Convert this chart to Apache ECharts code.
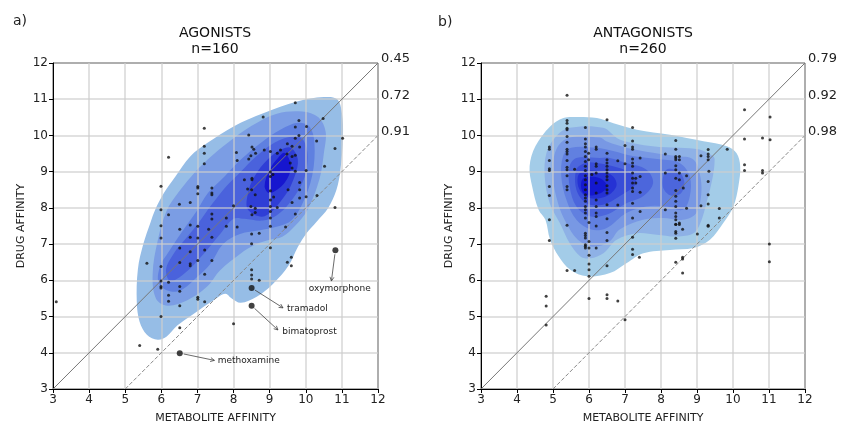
<!DOCTYPE html>
<html>
<head>
<meta charset="utf-8">
<script src="https://cdn.jsdelivr.net/npm/echarts/dist/echarts.min.js"></script>
<style>
  html, body { margin: 0; padding: 0; background: #fff; }
  #chart { width: 841px; height: 430px; }
</style>
</head>
<body>
<div id="chart"></div>
<script>
// 散点数据 (metabolite affinity, drug affinity)
var agoPoints = [
  [9.71,10.9],[8.82,10.51],[9.81,10.41],[10.48,10.47],[7.19,10.2],[9.71,10.23],[8.42,10.01],[10.02,10.25],
  [9.81,10.0],[11.02,9.92],[10.3,9.85],[9.71,9.92],[9.49,9.77],[9.83,9.68],[9.62,9.7],[7.19,9.7],[7.19,9.51],
  [6.2,9.4],[8.08,9.53],[8.51,9.68],[8.56,9.62],[8.61,9.51],[8.85,9.6],[9.02,9.56],[9.21,9.51],[9.3,9.6],
  [9.48,9.49],[9.62,9.42],[8.48,9.44],[8.42,9.35],[8.1,9.31],[7.19,9.22],[10.81,9.64],[9.71,9.45],[9.57,9.24],
  [9.62,9.1],[9.71,9.01],[10.01,9.03],[10.52,9.15],[9.02,8.99],[9.09,8.92],[9.02,8.87],[8.51,8.82],[8.51,8.78],
  [8.3,8.78],[5.99,8.6],[7.01,8.59],[7.01,8.55],[7.4,8.55],[8.39,8.52],[8.5,8.5],[9.02,8.47],[9.51,8.5],
  [9.83,8.7],[9.83,8.5],[7.4,8.41],[7.4,8.36],[8.6,8.36],[9.83,8.27],[10.01,8.31],[10.31,8.34],[9.11,8.3],
  [9.02,8.22],[7.01,8.39],[5.99,7.95],[6.5,8.1],[6.8,8.15],[8.0,8.06],[8.48,8.04],[8.6,7.99],[8.6,7.87],
  [9.02,8.04],[9.21,8.01],[9.62,8.15],[10.81,8.01],[6.2,7.81],[7.4,7.83],[7.4,7.69],[8.51,7.81],[9.02,7.9],
  [9.71,7.83],[5.99,7.51],[6.51,7.41],[6.8,7.53],[7.01,7.49],[7.31,7.41],[7.8,7.72],[7.8,7.49],[8.1,7.47],
  [9.02,7.72],[9.02,7.49],[9.44,7.47],[5.99,7.17],[6.8,7.19],[7.01,7.17],[7.4,7.19],[8.5,7.28],[8.5,7.01],
  [8.71,7.3],[9.02,6.9],[6.51,6.89],[6.8,6.79],[7.2,6.84],[7.01,6.55],[7.4,6.55],[6.8,6.46],[6.8,6.4],
  [6.51,6.49],[5.99,6.38],[5.6,6.47],[9.49,6.5],[9.6,6.64],[9.6,6.4],[8.5,6.29],[8.5,6.15],[8.5,6.04],
  [8.71,6.0],[7.2,6.17],[5.99,5.98],[6.2,5.95],[5.99,5.83],[5.99,5.79],[6.51,5.83],[6.51,5.7],[6.2,5.59],
  [6.2,5.42],[7.01,5.53],[7.01,5.48],[7.2,5.41],[6.51,5.3],[5.99,5.0],[3.09,5.41],[6.51,4.69],[8.0,4.8],
  [5.4,4.2],[5.9,4.1]
]

var antaPoints = [
  [5.39,11.11],[5.39,10.41],[5.39,10.34],[5.39,10.2],[5.39,10.16],[6.5,10.43],[5.9,10.22],[7.21,10.22],
  [10.32,10.71],[11.03,10.51],[10.32,9.9],[10.82,9.93],[11.03,9.88],[10.32,9.19],[10.32,9.03],[10.82,9.03],
  [10.82,8.96],[9.84,9.62],[4.9,9.68],[4.9,9.62],[5.39,9.97],[5.39,9.81],[5.39,9.62],[5.39,9.56],[5.39,9.49],
  [5.9,9.9],[5.9,9.77],[5.9,9.68],[5.9,9.56],[6.2,9.68],[6.2,9.62],[7.0,9.72],[7.21,9.85],[7.21,9.68],
  [7.21,9.62],[8.41,9.86],[8.41,9.62],[8.41,9.42],[8.41,9.38],[8.41,9.33],[8.51,9.42],[8.51,9.33],[8.12,9.49],
  [9.31,9.61],[9.31,9.49],[9.31,9.42],[9.31,9.33],[9.11,9.44],[4.9,9.31],[4.9,9.08],[4.9,9.03],[4.9,8.59],
  [4.9,8.34],[4.9,7.67],[5.39,9.31],[5.39,9.12],[5.39,9.05],[5.39,8.89],[5.39,8.59],[5.39,8.5],[5.6,9.07],
  [5.9,9.42],[5.9,9.28],[5.9,9.15],[5.9,9.03],[5.9,8.89],[5.9,8.78],[5.9,8.64],[5.9,8.5],[5.9,8.36],
  [5.9,8.27],[5.9,8.18],[5.9,8.04],[5.9,7.95],[5.9,7.86],[5.9,7.72],[5.99,9.51],[5.99,9.33],
  [6.2,9.22],[6.2,9.15],[6.2,8.96],[6.2,8.69],[6.2,8.41],[6.2,8.22],[6.2,8.04],[6.2,7.86],[6.2,7.76],[6.08,8.92],
  [6.5,9.51],[6.5,9.33],[6.5,9.24],[6.5,9.15],[6.5,9.05],[6.5,8.96],[6.5,8.87],[6.5,8.78],[6.5,8.61],
  [6.5,8.5],[6.5,8.41],[6.5,8.09],[6.5,7.7],[6.8,9.3],[6.8,8.08],[7.0,9.22],
  [7.21,9.35],[7.21,9.24],[7.21,9.15],[7.21,8.96],[7.21,8.82],[7.21,8.69],[7.21,8.55],[7.21,8.45],[7.21,8.13],
  [7.21,7.72],[7.3,8.82],[7.3,8.69],[7.42,9.38],[7.42,8.87],[7.42,8.43],[7.42,7.9],[8.12,8.96],[8.12,7.95],
  [8.41,9.16],[8.41,9.05],[8.41,8.82],[8.41,8.48],[8.41,8.32],[8.41,8.18],[8.41,8.04],[8.41,7.86],[8.41,7.76],
  [8.41,7.67],[8.41,7.55],[8.51,8.96],[8.51,8.78],[8.51,7.58],[8.62,8.55],[8.71,7.99],[8.71,8.89],[9.11,8.06],
  [9.31,8.73],[9.31,8.36],[9.31,8.11],[9.33,9.01],[9.62,7.98],[9.62,7.72],[9.31,7.52],
  [4.9,7.1],[5.39,7.52],[5.9,7.3],[5.9,7.24],[5.9,7.17],[5.9,6.98],[5.9,6.94],[5.9,6.89],[6.0,7.6],[6.0,7.07],
  [6.0,6.89],[6.0,6.69],[6.0,6.45],[6.0,6.29],[6.0,6.11],[6.2,7.5],[6.2,6.89],[6.5,7.32],[6.5,7.1],[6.5,6.4],
  [7.21,7.19],[7.21,6.86],[7.21,6.71],[7.4,6.64],[8.41,7.54],[8.41,7.35],[8.41,7.3],[8.41,7.16],[8.51,7.54],
  [8.6,7.41],[9.01,7.28],[9.31,7.49],[8.41,6.5],[8.6,6.64],[8.6,6.59],[8.6,6.2],[5.39,6.27],[5.6,6.27],
  [4.81,5.56],[4.81,5.29],[4.81,4.77],[6.0,5.5],[6.5,5.6],[6.5,5.5],[6.8,5.43],[7.0,4.91],[11.01,7.0],[11.01,6.51]
]

// 标注的药物
var drugNames = ['oxymorphone', 'tramadol', 'bimatoprost', 'methoxamine']
var drugPoints = [[10.82,6.83],[8.5,5.79],[8.5,5.3],[6.51,3.99]]

// 对角线右侧的比例
var agoFracs = ['0.45', '0.72', '0.91']
var antaFracs = ['0.79', '0.92', '0.98']
var fracLevels = [12, 11, 10]

// KDE 等高线 (从图上读取的轮廓)
var agoContours = [
  [[10.5,11.06],[10.87,11.0],[11.0,10.62],[11.03,9.97],[10.96,9.05],[10.85,8.5],[10.62,8.0],[10.3,7.62],[10.02,7.3],
   [9.78,6.92],[9.52,6.4],[9.09,5.9],[8.63,5.54],[8.2,5.38],[7.95,5.5],[7.77,5.63],[7.45,5.45],[6.9,5.08],
   [6.44,4.75],[6.15,4.45],[5.9,4.36],[5.6,4.5],[5.4,4.85],[5.32,5.4],[5.35,6.3],[5.5,7.0],[5.7,7.6],
   [5.83,7.95],[6.07,8.41],[6.39,8.87],[6.8,9.42],[7.27,9.79],[8.0,10.25],[8.84,10.62],[9.76,10.94]],
  [[9.9,10.66],[10.35,10.5],[10.55,10.1],[10.5,9.5],[10.38,8.8],[10.05,7.95],[9.7,7.5],[9.35,7.2],[9.0,7.12],
   [8.63,7.0],[8.18,6.73],[7.63,6.28],[7.26,5.82],[6.72,5.45],[6.17,5.3],[5.85,5.5],[5.76,6.18],[5.9,7.1],
   [6.15,7.93],[6.46,8.41],[6.83,8.87],[7.29,9.34],[7.84,9.8],[8.49,10.26],[9.2,10.6]],
  [[9.78,10.35],[10.1,10.25],[10.24,9.8],[10.18,8.9],[9.9,8.1],[9.6,7.65],[9.27,7.5],[8.73,7.38],[8.18,7.28],
   [7.72,7.01],[7.36,6.46],[6.99,6.09],[6.53,5.72],[6.17,5.72],[5.92,5.95],[5.97,6.4],[6.2,6.78],[6.53,7.28],
   [6.99,7.93],[7.29,8.41],[7.75,8.87],[8.21,9.34],[8.76,9.8],[9.32,10.17]],
  [[9.69,9.98],[9.95,9.85],[10.05,9.4],[9.95,8.8],[9.6,8.2],[9.2,7.8],[8.8,7.65],[8.3,7.7],[8.0,7.7],[7.63,7.28],
   [7.17,6.73],[6.63,6.18],[6.25,5.98],[6.13,6.3],[6.35,6.75],[6.63,7.1],[7.0,7.55],[7.4,8.1],[7.8,8.6],
   [8.2,9.0],[8.6,9.4],[9.13,9.8]],
  [[9.59,9.66],[9.78,9.34],[9.69,8.87],[9.41,8.32],[8.86,7.77],[8.4,7.95],[8.4,8.41],[8.58,8.87],[8.95,9.34],[9.32,9.61]],
  [[9.41,9.52],[9.59,9.15],[9.41,8.69],[9.0,8.41],[8.86,8.6],[9.0,9.06],[9.23,9.38]]
]

var antaContours = [
  [[5.66,10.51],[6.22,10.48],[6.68,10.34],[7.33,10.16],[8.25,10.02],[9.18,9.84],[9.83,9.7],[10.1,9.51],[10.2,9.15],
   [10.15,8.6],[10.01,8.04],[9.73,7.58],[9.36,7.12],[8.9,6.89],[8.25,6.84],[7.51,6.75],[7.05,6.48],[6.58,6.2],
   [5.94,6.11],[5.48,6.29],[5.16,6.66],[4.92,7.12],[4.79,7.67],[4.6,7.95],[4.42,8.6],[4.35,9.15],[4.51,9.7],
   [4.92,10.25],[5.29,10.48]],
  [[5.46,10.21],[6.39,10.21],[6.85,9.89],[7.77,9.7],[8.51,9.66],[9.07,9.61],[9.44,9.43],[9.49,9.34],[9.44,8.87],
   [9.26,8.13],[9.1,7.6],[8.9,7.3],[8.44,7.21],[7.88,7.26],[7.33,7.3],[6.77,7.12],[6.4,6.75],[6.04,6.61],
   [5.76,6.66],[5.46,7.03],[5.19,7.58],[4.91,8.13],[4.77,8.87],[4.82,9.52],[5.09,9.98]],
  [[5.46,9.94],[6.3,9.94],[6.48,9.84],[7.04,9.66],[7.78,9.52],[8.43,9.43],[8.89,9.34],[9.07,8.97],[9.12,8.41],
   [8.98,7.86],[8.61,7.67],[8.06,7.72],[7.5,7.67],[6.85,7.4],[6.57,7.07],[6.11,6.93],[5.69,7.12],[5.37,7.58],
   [5.14,8.13],[5.0,8.87],[5.09,9.61]],
  [[5.5,9.66],[6.2,9.66],[6.67,9.57],[7.22,9.43],[7.96,9.34],[8.52,9.24],[8.8,8.87],[8.8,8.32],[8.61,7.95],
   [8.15,8.04],[7.59,8.04],[7.04,7.86],[6.48,7.44],[6.06,7.4],[5.65,7.67],[5.37,8.23],[5.23,8.87],[5.28,9.43]],
  [[5.65,9.38],[6.3,9.38],[6.57,9.38],[7.04,9.24],[7.59,9.06],[7.78,8.69],[7.5,8.32],[7.04,8.13],[6.48,7.81],
   [6.02,7.77],[5.65,8.04],[5.46,8.6],[5.46,9.15]],
  [[8.15,9.05],[8.5,9.0],[8.65,8.7],[8.55,8.4],[8.25,8.35],[8.05,8.6]],
  [[5.9,9.24],[6.2,9.24],[6.67,9.15],[7.13,8.97],[7.31,8.69],[6.85,8.32],[6.39,8.09],[5.93,8.13],[5.65,8.5],[5.65,9.06]],
  [[5.85,9.01],[6.3,9.01],[6.67,8.87],[6.76,8.6],[6.48,8.32],[6.02,8.27],[5.74,8.5],[5.69,8.87]],
  [[5.85,8.82],[6.3,8.82],[6.5,8.6],[6.3,8.4],[5.9,8.36],[5.78,8.58]]
]

var agoColors = ['#96bde6', '#7b9de4', '#5f80e0', '#4a62dc', '#2f3ed6', '#1616cf']
var antaColors = ['#a3cce8', '#8eb1e6', '#7898e4', '#6180e0', '#4c66dc', '#4c66dc', '#384cd8', '#2532d4', '#1418cf']

// 标注文字位置
var drugLabelAt = [[10.94,5.76],[9.48,5.21],[9.35,4.58],[7.56,3.77]]
var drugArrowTo = [[10.71,5.98],[9.37,5.24],[9.23,4.63],[7.47,3.79]]

var myChart = echarts.init(document.getElementById('chart'))

function xAxisOf(i) {
  return {
    gridIndex: i, type: 'value', min: 3, max: 12, interval: 1, z: 2,
    name: 'METABOLITE AFFINITY', nameLocation: 'middle', nameGap: 24,
    nameTextStyle: { fontFamily: 'DejaVu Sans', fontSize: 11, color: '#222' },
    axisLine: { onZero: false, lineStyle: { color: '#000', width: 1 } },
    axisTick: { length: 4, lineStyle: { color: '#000' } },
    axisLabel: { fontFamily: 'DejaVu Sans', fontSize: 12, color: '#222', margin: 5 },
    splitLine: { show: true, lineStyle: { color: 'rgba(205,205,205,0.6)', width: 2 } }
  }
}
function yAxisOf(i) {
  return {
    gridIndex: i, type: 'value', min: 3, max: 12, interval: 1, z: 2,
    name: 'DRUG AFFINITY', nameLocation: 'middle', nameGap: 26,
    nameTextStyle: { fontFamily: 'DejaVu Sans', fontSize: 11, color: '#222' },
    axisLine: { onZero: false, lineStyle: { color: '#000', width: 1 } },
    axisTick: { length: 4, lineStyle: { color: '#000' } },
    axisLabel: { fontFamily: 'DejaVu Sans', fontSize: 12, color: '#222', margin: 5 },
    splitLine: { show: true, lineStyle: { color: 'rgba(205,205,205,0.6)', width: 2 } }
  }
}

function contourSeries(polys, colors, i) {
  return {
    type: 'custom', xAxisIndex: i, yAxisIndex: i, z: 1, silent: true,
    data: polys.map(function (p) { return p[0] }),
    renderItem: function (params, api) {
      var pts = polys[params.dataIndex].map(function (p) { return api.coord(p) })
      return {
        type: 'polygon',
        shape: { points: pts, smooth: 0.35 },
        style: { fill: colors[params.dataIndex] }
      }
    }
  }
}

function refLines(i) {
  return [
    { type: 'line', xAxisIndex: i, yAxisIndex: i, z: 3, silent: true, symbol: 'none',
      data: [[3, 3], [12, 12]], lineStyle: { color: '#777', width: 1 } },
    { type: 'line', xAxisIndex: i, yAxisIndex: i, z: 3, silent: true, symbol: 'none',
      data: [[5, 3], [12, 10]], lineStyle: { color: '#888', width: 1, type: [4, 2] } }
  ]
}

function fracSeries(texts, i) {
  return {
    type: 'custom', xAxisIndex: i, yAxisIndex: i, z: 4, silent: true,
    data: fracLevels.map(function (v) { return [12, v] }),
    renderItem: function (params, api) {
      var p = api.coord([12, fracLevels[params.dataIndex]])
      return {
        type: 'text', x: p[0] + 3, y: p[1] - 4,
        style: { text: texts[params.dataIndex], fontFamily: 'DejaVu Sans', fontSize: 13, fill: '#222',
                 align: 'left', verticalAlign: 'middle', textAlign: 'left', textVerticalAlign: 'middle' }
      }
    }
  }
}

var option = {
  animation: false,
  backgroundColor: '#fff',
  grid: [
    { left: 53, top: 63, width: 325, height: 326, show: true, borderColor: '#000', borderWidth: 1, backgroundColor: 'transparent' },
    { left: 481, top: 63, width: 324, height: 326, show: true, borderColor: '#000', borderWidth: 1, backgroundColor: 'transparent' }
  ],
  xAxis: [xAxisOf(0), xAxisOf(1)],
  yAxis: [yAxisOf(0), yAxisOf(1)],
  graphic: [
    { type: 'text', x: 13, y: 21, style: { text: 'a)', fontFamily: 'DejaVu Sans', fontSize: 14, fill: '#222', verticalAlign: 'middle', textVerticalAlign: 'middle' } },
    { type: 'text', x: 438, y: 22, style: { text: 'b)', fontFamily: 'DejaVu Sans', fontSize: 14, fill: '#222', verticalAlign: 'middle', textVerticalAlign: 'middle' } },
    { type: 'text', x: 215, y: 41, style: { text: 'AGONISTS\nn=160', fontFamily: 'DejaVu Sans', fontSize: 14, lineHeight: 16, fill: '#111',
        align: 'center', verticalAlign: 'middle', textAlign: 'center', textVerticalAlign: 'middle' } },
    { type: 'text', x: 643, y: 41, style: { text: 'ANTAGONISTS\nn=260', fontFamily: 'DejaVu Sans', fontSize: 14, lineHeight: 16, fill: '#111',
        align: 'center', verticalAlign: 'middle', textAlign: 'center', textVerticalAlign: 'middle' } }
  ],
  series: [
    contourSeries(agoContours, agoColors, 0),
    contourSeries(antaContours, antaColors, 1)
  ].concat(refLines(0), refLines(1), [
    { type: 'scatter', xAxisIndex: 0, yAxisIndex: 0, z: 5, silent: true, symbolSize: 3,
      itemStyle: { color: '#111' }, data: agoPoints },
    { type: 'scatter', xAxisIndex: 1, yAxisIndex: 1, z: 5, silent: true, symbolSize: 3,
      itemStyle: { color: '#111' }, data: antaPoints },
    { type: 'scatter', xAxisIndex: 0, yAxisIndex: 0, z: 5, silent: true, symbolSize: 6,
      itemStyle: { color: '#111' }, data: drugPoints },
    {
      type: 'custom', xAxisIndex: 0, yAxisIndex: 0, z: 4, silent: true,
      data: drugPoints,
      renderItem: function (params, api) {
        var i = params.dataIndex
        var p = api.coord(drugPoints[i])
        var t = api.coord(drugArrowTo[i])
        var l = api.coord(drugLabelAt[i])
        var dx = t[0] - p[0], dy = t[1] - p[1]
        var len = Math.sqrt(dx * dx + dy * dy)
        var ux = dx / len, uy = dy / len
        var s = [p[0] + ux * 4, p[1] + uy * 4]
        var head = [
          [t[0] - ux * 4 - uy * 2, t[1] - uy * 4 + ux * 2],
          t,
          [t[0] - ux * 4 + uy * 2, t[1] - uy * 4 - ux * 2]
        ]
        var centered = i === 0
        return {
          type: 'group',
          children: [
            { type: 'line', shape: { x1: s[0], y1: s[1], x2: t[0], y2: t[1] }, style: { stroke: '#444', lineWidth: 0.8 } },
            { type: 'polyline', shape: { points: head }, style: { stroke: '#444', lineWidth: 0.8, fill: null } },
            { type: 'text', x: l[0], y: l[1],
              style: { text: drugNames[i], fontFamily: 'DejaVu Sans', fontSize: 9, fill: '#222',
                       align: centered ? 'center' : 'left', textAlign: centered ? 'center' : 'left',
                       verticalAlign: 'middle', textVerticalAlign: 'middle' } }
          ]
        }
      }
    },
    fracSeries(agoFracs, 0),
    fracSeries(antaFracs, 1)
  ])
}

myChart.setOption(option)
</script>
</body>
</html>
